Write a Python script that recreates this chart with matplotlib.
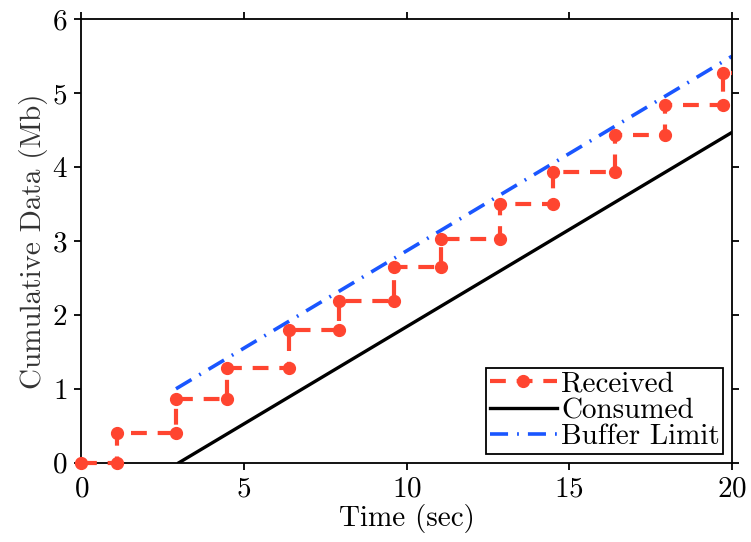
import numpy as np
import matplotlib.pyplot as plt

plt.rcParams['font.family'] = ['cmr10', 'DejaVu Serif']
plt.rcParams['axes.formatter.use_mathtext'] = True

# Received data: arrival times and cumulative sizes after each arrival
arrive_t = [0, 1.09, 2.91, 4.48, 6.38, 7.92, 9.61, 11.06, 12.87, 14.5, 16.4, 17.94, 19.72]
recv_mb = [0, 0.40, 0.86, 1.28, 1.80, 2.19, 2.65, 3.03, 3.50, 3.93, 4.43, 4.84, 5.28]
t_end = 20

# Consumed and buffer limit (straight lines)
cons_t = [3.0, 20]
cons_mb = [0, 4.47]
buf_t = [2.91, 20]
buf_mb = [1.0, 5.5]

# build step path with corner vertices
xs, ys = [arrive_t[0]], [recv_mb[0]]
for i in range(1, len(arrive_t)):
    xs += [arrive_t[i], arrive_t[i]]
    ys += [recv_mb[i - 1], recv_mb[i]]
xs.append(t_end)
ys.append(recv_mb[-1])

red = '#FF4530'
blue = '#1A56FF'

fig = plt.figure(figsize=[7.51, 5.42], dpi=100)
ax = fig.add_axes([0.1083, 0.1463, 0.8664, 0.8181])

ax.plot(xs, ys, color=red, lw=3.0, ls=(0, (3.8, 2.6)), marker='o', ms=8.5,
        markevery=list(range(len(xs) - 1)), label='Received', clip_on=False, zorder=3)
ax.plot(cons_t, cons_mb, color='black', lw=2.4, label='Consumed')
ax.plot(buf_t, buf_mb, color=blue, lw=2.6, ls=(0, (5, 2.5, 0.5, 2.5)), label='Buffer Limit')

ax.set_xlim(0, 20)
ax.set_ylim(0, 6)
ax.set_xticks([0, 5, 10, 15, 20])
ax.set_yticks([0, 1, 2, 3, 4, 5, 6])
ax.tick_params(direction='out', length=5, width=1.3, labelsize=21,
               top=True, right=True, pad=5)
for s in ax.spines.values():
    s.set_linewidth(1.3)

ax.set_xlabel('Time (sec)', fontsize=21, labelpad=1)
ax.set_ylabel('Cumulative Data (Mb)', fontsize=21, labelpad=3, color='#333333')

leg = ax.legend(loc='lower right', fontsize=21, fancybox=False, framealpha=1,
                edgecolor='black', borderpad=0.12, labelspacing=0.0,
                handlelength=2.3, handletextpad=0.15, borderaxespad=0.3)
leg.get_frame().set_linewidth(1.3)

plt.savefig('out.png', dpi=100)
